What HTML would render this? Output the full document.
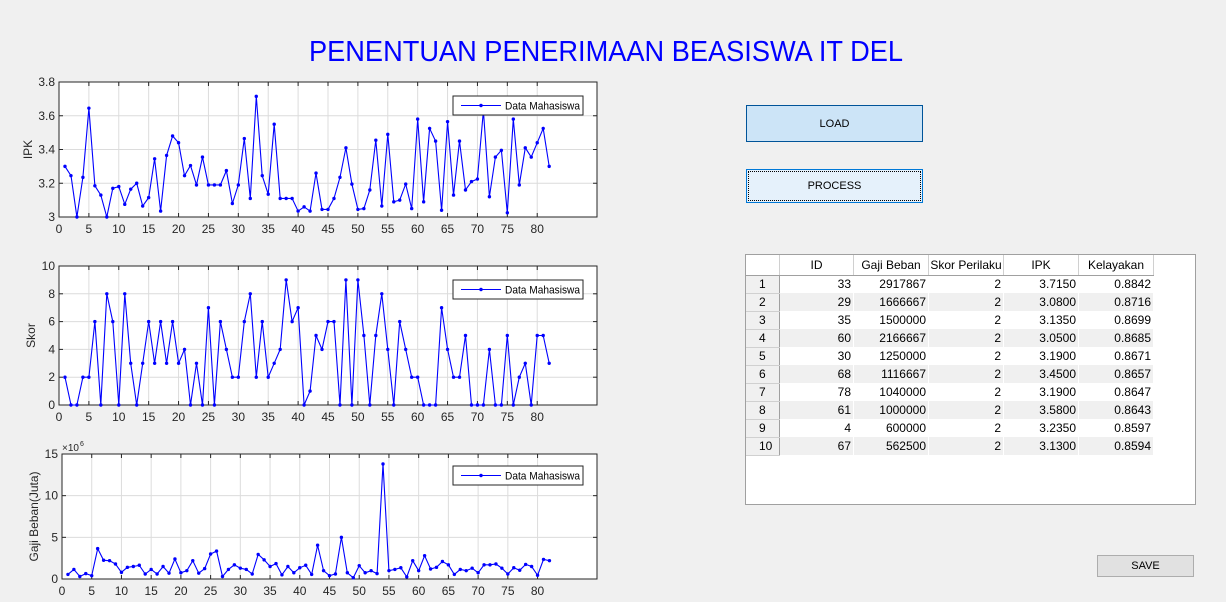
<!DOCTYPE html>
<html><head><meta charset="utf-8">
<style>
body{margin:0;width:1226px;height:602px;background:#f0f0f0;font-family:"Liberation Sans",sans-serif;overflow:hidden;position:relative}
.btn{position:absolute;box-sizing:border-box;font-size:11px;color:#000;display:flex;align-items:center;justify-content:center}
table{border-collapse:collapse;font-size:12px}
</style></head><body>
<svg width="1226" height="602" style="position:absolute;left:0;top:0" id="svg">
<text x="606" y="61" text-anchor="middle" font-size="29" fill="#0000ff" textLength="594" lengthAdjust="spacingAndGlyphs" font-family="Liberation Sans">PENENTUAN PENERIMAAN BEASISWA IT DEL</text>
</svg>

<div class="btn" style="left:746px;top:105px;width:177px;height:37px;background:#cce4f7;border:1px solid #005499">LOAD</div>
<div class="btn" style="left:746px;top:169px;width:177px;height:34px;background:#e5f1fb;border:1px solid #0078d7;outline:1px dotted #000;outline-offset:-3px">PROCESS</div>
<div class="btn" style="left:1097px;top:555px;width:97px;height:22px;background:#e1e1e1;border:1px solid #adadad">SAVE</div>

<div style="position:absolute;left:745px;top:254px;width:451px;height:251px;box-sizing:border-box;background:#fff;border:1px solid #a0a0a0">
<table id="tbl"></table>
</div>

<script>
const NS='http://www.w3.org/2000/svg';
const svg=document.getElementById('svg');
const ipk=[3.30,3.245,3.0,3.235,3.645,3.185,3.13,3.0,3.17,3.18,3.075,3.165,3.2,3.065,3.115,3.345,3.035,3.365,3.48,3.44,3.245,3.305,3.19,3.355,3.19,3.19,3.19,3.275,3.08,3.19,3.465,3.11,3.715,3.245,3.135,3.55,3.11,3.11,3.11,3.035,3.06,3.035,3.26,3.045,3.045,3.11,3.235,3.41,3.195,3.045,3.05,3.16,3.455,3.065,3.49,3.09,3.10,3.195,3.05,3.58,3.09,3.525,3.45,3.04,3.565,3.13,3.45,3.16,3.21,3.225,3.63,3.12,3.355,3.395,3.025,3.58,3.19,3.41,3.355,3.44,3.525,3.30];
const skor=[2,0,0,2,2,6,0,8,6,0,8,3,0,3,6,3,6,3,6,3,4,0,3,0,7,0,6,4,2,2,6,8,2,6,2,3,4,9,6,7,0,1,5,4,6,6,0,9,0,9,5,0,5,8,4,0,6,4,2,2,0,0,0,7,4,2,2,5,0,0,0,4,0,0,5,0,2,3,0,5,5,3];
const gaji=[0.55,1.15,0.3,0.65,0.4,3.65,2.25,2.2,1.8,0.8,1.4,1.5,1.65,0.6,1.15,0.6,1.5,0.7,2.4,0.75,1.0,2.2,0.7,1.25,3.0,3.35,0.3,1.15,1.7,1.3,1.15,0.6,2.95,2.3,1.5,1.85,0.5,1.5,0.75,1.35,1.65,0.55,4.05,1.0,0.4,0.6,5.0,0.75,0.15,1.6,0.75,1.0,0.65,13.8,1.0,1.15,1.35,0.25,2.2,1.0,2.8,1.2,1.4,2.1,1.7,0.55,1.15,1.0,1.3,0.75,1.7,1.7,1.8,1.3,0.6,1.35,1.05,1.75,1.5,0.45,2.35,2.2];
const xTicks=[0,5,10,15,20,25,30,35,40,45,50,55,60,65,70,75,80];
const ipkTicks=[3,3.2,3.4,3.6,3.8];
const skorTicks=[0,2,4,6,8,10];
const gajiTicks=[0,5,10,15];

function el(tag,attrs,parent){const e=document.createElementNS(NS,tag);for(const k in attrs)e.setAttribute(k,attrs[k]);(parent||svg).appendChild(e);return e;}

function chart(name,L,R,T,B,ymin,ymax,data,yTicks,ylabel,yfmt,lx,ly){
  const g=el('g',{});
  
  
  const X=v=>L+v*((R-L)/90);
  const Y=v=>B-(v-ymin)/(ymax-ymin)*(B-T);
  el('rect',{x:L,y:T,width:R-L,height:B-T,fill:'#fff'},g);
  xTicks.forEach(t=>{
    el('line',{x1:X(t),x2:X(t),y1:T,y2:B,stroke:'#dcdcdc','stroke-width':1},g);
    el('line',{x1:X(t),x2:X(t),y1:B,y2:B-4,stroke:'#262626'},g);
    el('line',{x1:X(t),x2:X(t),y1:T,y2:T+4,stroke:'#262626'},g);
    const tx=el('text',{x:X(t),y:B+16,'text-anchor':'middle','font-size':12,fill:'#262626'},g);
    tx.textContent=t;
    
    
  });
  yTicks.forEach(t=>{
    el('line',{x1:L,x2:R,y1:Y(t),y2:Y(t),stroke:'#dcdcdc'},g);
    el('line',{x1:L,x2:L+4,y1:Y(t),y2:Y(t),stroke:'#262626'},g);
    el('line',{x1:R,x2:R-4,y1:Y(t),y2:Y(t),stroke:'#262626'},g);
    const tx=el('text',{x:L-4,y:Y(t)+4,'text-anchor':'end','font-size':12,fill:'#262626'},g);
    tx.textContent=yfmt(t);
    
    
  });
  el('rect',{x:L,y:T,width:R-L,height:B-T,fill:'none',stroke:'#262626','stroke-width':1},g);
  const pts=data.map((v,i)=>X(i+1).toFixed(1)+','+Y(v).toFixed(1)).join(' ');
  const pl=el('polyline',{points:pts,fill:'none',stroke:'#0000ff','stroke-width':1.1},g);
  
  
  data.forEach((v,i)=>{
    const c=el('circle',{cx:X(i+1),cy:Y(v),r:1.7,fill:'#0000ff'},g);
    
    
  });
  const yl=el('text',{x:0,y:0,'text-anchor':'middle','font-size':12,fill:'#262626',transform:`translate(${lx},${(T+B)/2}) rotate(-90)`},g);
  yl.textContent=ylabel;
  
  
  const lg=el('g',{},g);
  
  
  el('rect',{x:453,y:ly,width:130,height:19,fill:'#fff',stroke:'#262626'},lg);
  el('line',{x1:461,x2:501,y1:ly+9.5,y2:ly+9.5,stroke:'#0000ff'},lg);
  el('circle',{cx:481,cy:ly+9.5,r:1.7,fill:'#0000ff'},lg);
  const lt=el('text',{x:505,y:ly+13.5,'font-size':11,fill:'#000',textLength:75,lengthAdjust:'spacingAndGlyphs'},lg);
  lt.textContent='Data Mahasiswa';
  return g;
}
chart('ipk-chart',59,597,82,217,3,3.8,ipk,ipkTicks,'IPK',t=>t===3?'3':t.toFixed(1),32,96);
chart('skor-chart',59,597,266,405,0,10,skor,skorTicks,'Skor',t=>String(t),35,280);
chart('gaji-chart',62,597,454,579,0,15,gaji,gajiTicks,'Gaji Beban(Juta)',t=>String(t),38,466);
const ex=el('text',{x:62,y:451,'font-size':10,fill:'#262626'});
ex.textContent='×10';


const ex2=el('text',{x:80,y:446,'font-size':7,fill:'#262626'});
ex2.textContent='6';

const ids=[33,29,35,60,30,68,78,61,4,67];
const gajiB=[2917867,1666667,1500000,2166667,1250000,1116667,1040000,1000000,600000,562500];
const skorP=[2,2,2,2,2,2,2,2,2,2];
const ipkT=['3.7150','3.0800','3.1350','3.0500','3.1900','3.4500','3.1900','3.5800','3.2350','3.1300'];
const kel=['0.8842','0.8716','0.8699','0.8685','0.8671','0.8657','0.8647','0.8643','0.8597','0.8594'];
const tbl=document.getElementById('tbl');
const widths=[34,74,75,75,75,75];
let h='<tr style="height:20px">';
['','ID','Gaji Beban','Skor Perilaku','IPK','Kelayakan'].forEach((t,i)=>{h+=`<th style="width:${widths[i]-1}px;padding:0;font-weight:normal;text-align:${i==0?'left':'center'};background:#fff;border-right:1px solid #d0d0d0;border-bottom:1px solid #a0a0a0;border-left:${i==1?'1px solid #a0a0a0':'0'}">${t}</th>`;});
h+='</tr>';
for(let r=0;r<10;r++){
  const bg=r%2?'#f0f0f0':'#fff';
  h+=`<tr style="height:18px;background:${bg}"><td style="padding:0 0 0 13px;background:#f0f0f0;border-right:1px solid #a0a0a0;border-bottom:1px solid #d0d0d0">${r+1}</td>`;
  [ids[r],gajiB[r],skorP[r],ipkT[r],kel[r]].forEach(v=>{h+=`<td style="padding:0 2px 0 0;text-align:right;border-right:1px solid #fff">${v}</td>`;});
  h+='</tr>';
}
tbl.innerHTML=h;
</script>
</body></html>
